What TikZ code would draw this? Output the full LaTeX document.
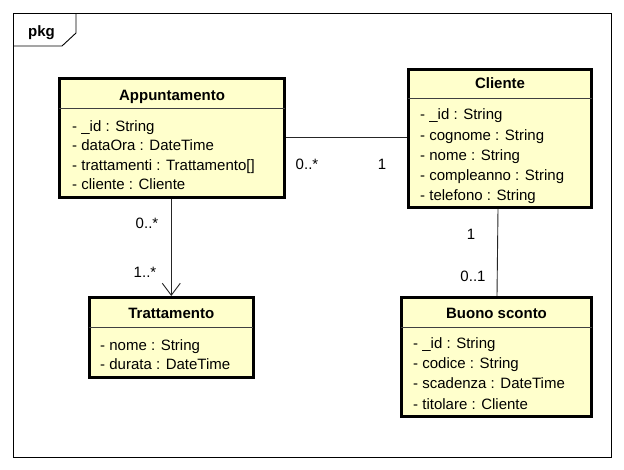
\documentclass[tikz,border=0pt]{standalone}
\usepackage{fontspec}
\setmainfont{Liberation Sans}
\usetikzlibrary{arrows.meta}
\definecolor{classfill}{RGB}{255,255,204}
\begin{document}
\begin{tikzpicture}[x=1pt,y=-1pt,
  every node/.style={font=\fontsize{15}{18}\selectfont, inner sep=0pt},
  classbox/.style={draw=black, line width=2.6pt, fill=classfill, rectangle, inner sep=0pt},
  classtitle/.style={font=\fontsize{15}{18}\selectfont\bfseries, anchor=mid, yshift=-2.5pt},
  attr/.style={anchor=mid west, yshift=-2.5pt},
  sepline/.style={draw=black!75, line width=0.8pt},
  conn/.style={draw=black!85, line width=0.9pt},
  mult/.style={anchor=mid, yshift=-2.5pt},
  openarrow/.style={-{Straight Barb[length=12pt, width=18pt, line width=0.9pt]}},
  frameline/.style={draw=black, line width=0.9pt}
]
\useasboundingbox (0,0) rectangle (624,470);
\fill[white] (0,0) rectangle (624,470);

% package frame
\draw[frameline] (13.5,13.5) rectangle (611.5,457.5);
\draw[frameline] (13.5,46) -- (62,46) -- (76,33) -- (76,13.5);
\node[anchor=base west, font=\fontsize{15}{18}\selectfont\bfseries] (pkg) at (28,37) {pkg};

% Appuntamento
\node[classbox, minimum width=225.4pt, minimum height=119.4pt] (app) at (172,138) {};
\draw[sepline] (59.3,108) -- (284.7,108);
\node[classtitle] (app-t) at (172,95) {Appuntamento};
\node[attr] (app-a1) at (72,126) {- \_id : String};
\node[attr] (app-a2) at (72,145.5) {- dataOra : DateTime};
\node[attr] (app-a3) at (72,165) {- trattamenti : Trattamento[]};
\node[attr] (app-a4) at (72,184.5) {- cliente : Cliente};

% Cliente
\node[classbox, minimum width=183.4pt, minimum height=138.4pt] (cli) at (500,138.5) {};
\draw[sepline] (408.3,98) -- (591.7,98);
\node[classtitle] (cli-t) at (500,83) {Cliente};
\node[attr] (cli-a1) at (420,114.5) {- \_id : String};
\node[attr] (cli-a2) at (420,135) {- cognome : String};
\node[attr] (cli-a3) at (420,155.5) {- nome : String};
\node[attr] (cli-a4) at (420,175.5) {- compleanno : String};
\node[attr] (cli-a5) at (420,195) {- telefono : String};

% Trattamento
\node[classbox, minimum width=164pt, minimum height=80.4pt] (trat) at (171.25,337.5) {};
\draw[sepline] (89.3,327) -- (253.2,327);
\node[classtitle] (trat-t) at (171.25,313.5) {Trattamento};
\node[attr] (trat-a1) at (100,345) {- nome : String};
\node[attr] (trat-a2) at (100,364.3) {- durata : DateTime};

% Buono sconto
\node[classbox, minimum width=190.4pt, minimum height=119.4pt] (buono) at (496.5,357) {};
\draw[sepline] (401.3,327) -- (591.7,327);
\node[classtitle] (buono-t) at (496.5,313) {Buono sconto};
\node[attr] (buono-a1) at (413,343.5) {- \_id : String};
\node[attr] (buono-a2) at (413,363.3) {- codice : String};
\node[attr] (buono-a3) at (413,383.5) {- scadenza : DateTime};
\node[attr] (buono-a4) at (413,404) {- titolare : Cliente};

% connectors
\coordinate (assocy) at (0,137);
\draw[conn] (app.east |- assocy) -- (cli.west |- assocy);
\draw[conn, openarrow] (app.south -| trat.north) -- (trat.north);
\draw[conn] ([xshift=-2pt]cli.south) -- ([xshift=0.5pt]buono.north);

% multiplicities
\node[mult] (m1) at (307,164) {0..*};
\node[mult] (m2) at (382,164) {1};
\node[mult] (m3) at (147,223.5) {0..*};
\node[mult] (m4) at (145,272) {1..*};
\node[mult] (m5) at (471,234) {1};
\node[mult] (m6) at (473,276) {0..1};
\end{tikzpicture}
\end{document}
